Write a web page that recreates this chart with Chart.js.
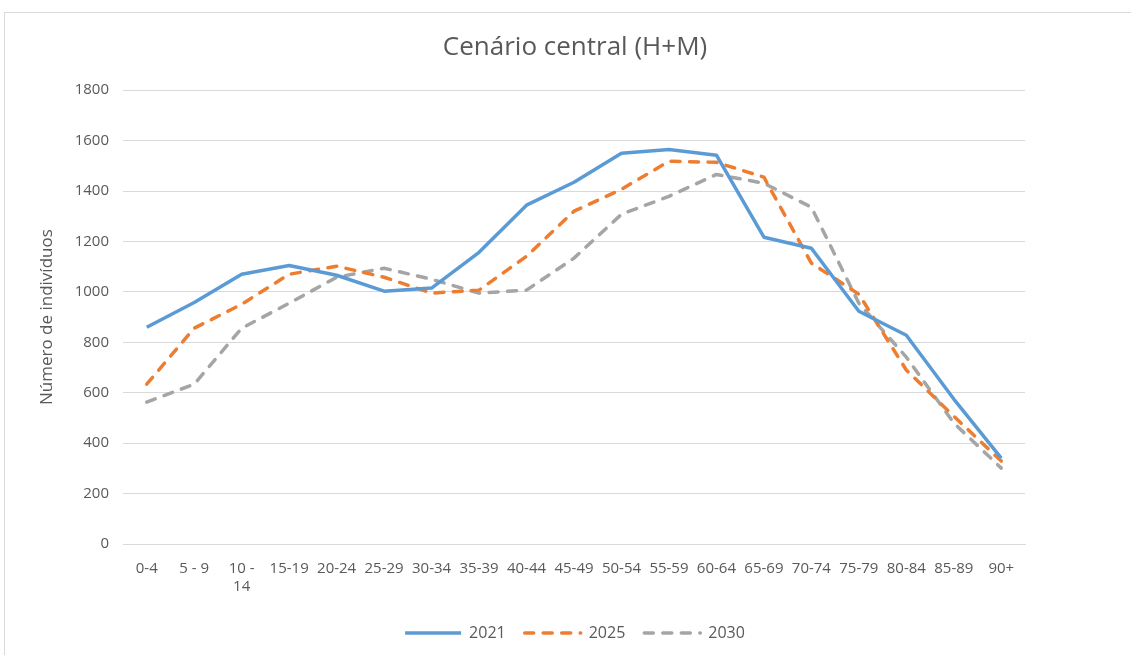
<!DOCTYPE html>
<html lang="pt">
<head>
  <meta charset="UTF-8">
  <title>Cenário central (H+M)</title>
  <script src="https://cdn.jsdelivr.net/npm/chart.js"></script>
  <style>
    html, body { margin: 0; padding: 0; background: #fff; }
    #frame {
      position: absolute;
      left: 4px; top: 12px;
      width: 1140px; height: 660px;
      border: 1px solid #d9d9d9;
    }
    #chartContainer {
      position: absolute;
      left: 0; top: 0;
      width: 1131px; height: 655px;
    }
  </style>
</head>
<body>
<div id="frame"></div>
<div id="chartContainer">
  <canvas id="popChart"></canvas>
</div>

<script>
  // age groups (the 10-14 label wraps onto two lines in the original)
  const ageGroups = ['0-4', '5 - 9', ['10 -', '14'], '15-19', '20-24', '25-29', '30-34', '35-39',
    '40-44', '45-49', '50-54', '55-59', '60-64', '65-69', '70-74', '75-79', '80-84', '85-89', '90+'];

  const pop2021 = [860, 958, 1070, 1105, 1066, 1003, 1015, 1157, 1344, 1435, 1550, 1565, 1542, 1217, 1173, 923, 828, 575, 341];
  const pop2025 = [634, 856, 951, 1070, 1102, 1058, 995, 1007, 1141, 1320, 1407, 1518, 1514, 1455, 1114, 991, 690, 507, 329];
  const pop2030 = [563, 634, 856, 955, 1058, 1094, 1050, 995, 1007, 1134, 1308, 1379, 1466, 1431, 1336, 955, 741, 480, 301];

  const yTicks = [0, 200, 400, 600, 800, 1000, 1200, 1400, 1600, 1800];

  const font = '"Open Sans", "Noto Sans", sans-serif';
  const textColor = '#595959';

  const ctx = document.getElementById('popChart').getContext('2d');

  const line = (label, data, color, dash) => ({
    label: label,
    data: data,
    borderColor: color,
    backgroundColor: color,
    borderWidth: 3.5,
    borderDash: dash,
    borderCapStyle: dash.length ? 'round' : 'butt',
    borderJoinStyle: 'round',
    pointRadius: 0,
    pointHoverRadius: 0,
    tension: 0,
    fill: false
  });

  new Chart(ctx, {
    type: 'line',
    data: {
      labels: ageGroups,
      datasets: [
        line('2021', pop2021, '#5b9bd5', []),
        line('2025', pop2025, '#ed7d31', [9, 9.5]),
        line('2030', pop2030, '#a5a5a5', [9, 9.5])
      ]
    },
    options: {
      responsive: true,
      maintainAspectRatio: false,
      animation: false,
      layout: {
        padding: { left: 37, right: 18, top: 20, bottom: 4 }
      },
      plugins: {
        title: {
          display: true,
          text: 'Cenário central (H+M)',
          color: textColor,
          font: { family: font, size: 26, weight: 'normal' },
          padding: { top: 12, bottom: 27 }
        },
        legend: {
          position: 'bottom',
          labels: {
            usePointStyle: true,
            pointStyle: 'line',
            pointStyleWidth: 56,
            boxHeight: 4,
            color: textColor,
            font: { family: font, size: 16 },
            padding: 19,
            generateLabels: (chart) => {
              const items = Chart.defaults.plugins.legend.labels.generateLabels(chart);
              items.forEach(item => {
                const ds = chart.data.datasets[item.datasetIndex];
                item.lineDash = ds.borderDash;
                item.lineCap = ds.borderCapStyle;
                item.lineWidth = ds.borderWidth;
              });
              return items;
            }
          }
        },
        tooltip: { enabled: false }
      },
      scales: {
        x: {
          offset: true,
          afterFit: (scale) => { scale.height += 2; },
          grid: { display: false },
          border: { display: true, color: '#d9d9d9' },
          ticks: {
            color: textColor,
            font: { family: font, size: 15 },
            maxRotation: 0,
            autoSkip: false,
            padding: 8
          }
        },
        y: {
          min: 0,
          max: 1800,
          afterFit: (scale) => { scale.width = 86; },
          afterBuildTicks: (scale) => { scale.ticks = yTicks.map(v => ({ value: v })); },
          grid: { color: '#d9d9d9', drawTicks: false },
          border: { display: false },
          ticks: {
            color: textColor,
            font: { family: font, size: 15 },
            padding: 14,
            callback: (v) => String(v)
          },
          title: {
            display: true,
            text: 'Número de indivíduos',
            color: textColor,
            font: { family: font, size: 17 },
            padding: 0
          }
        },
        // empty right-hand axis: reserves the blank strip right of the plot
        yRight: {
          position: 'right',
          min: 0,
          max: 1800,
          afterFit: (scale) => { scale.width = 88; },
          grid: { display: false },
          border: { display: false },
          ticks: { display: false }
        }
      }
    }
  });
</script>
</body>
</html>
